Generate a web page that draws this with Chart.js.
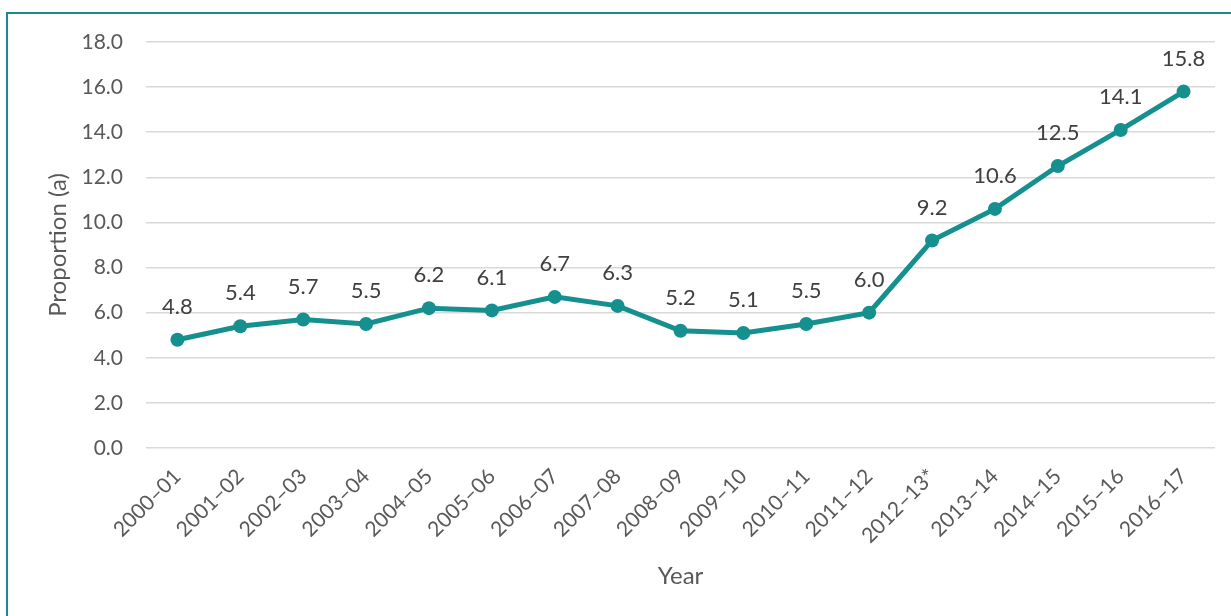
<!DOCTYPE html>
<html>
<head>
<meta charset="utf-8">
<script src="https://cdn.jsdelivr.net/npm/chart.js@4"></script>
<style>
  html, body { margin: 0; padding: 0; background: #fff; }
  #wrap { position: relative; width: 1231px; height: 616px; }
  #frame {
    position: absolute; left: 6px; top: 12px; right: 0; bottom: 0;
    border-left: 2px solid #1a8b8b; border-top: 2px solid #1a8b8b;
    pointer-events: none;
  }
</style>
</head>
<body>
<div id="wrap">
  <canvas id="chart" width="1231" height="616"></canvas>
  <div id="frame"></div>
</div>
<script>
// Chart data
const years = [
  "2000–01", "2001–02", "2002–03", "2003–04", "2004–05", "2005–06",
  "2006–07", "2007–08", "2008–09", "2009–10", "2010–11", "2011–12",
  "2012–13*", "2013–14", "2014–15", "2015–16", "2016–17"
];
const proportion = [4.8, 5.4, 5.7, 5.5, 6.2, 6.1, 6.7, 6.3, 5.2, 5.1, 5.5, 6.0, 9.2, 10.6, 12.5, 14.1, 15.8];
const yTicks = [0, 2, 4, 6, 8, 10, 12, 14, 16, 18];

const TEAL = "#168f8f";
const FONT = "Lato, 'Open Sans', sans-serif";

// Draws the value above each point
const valueLabels = {
  id: "valueLabels",
  afterDatasetsDraw(chart) {
    const ctx = chart.ctx;
    const meta = chart.getDatasetMeta(0);
    ctx.save();
    ctx.font = "22px " + FONT;
    ctx.fillStyle = "#404040";
    ctx.textAlign = "center";
    ctx.textBaseline = "middle";
    meta.data.forEach((pt, i) => {
      ctx.fillText(proportion[i].toFixed(1), pt.x, pt.y - 33);
    });
    ctx.restore();
  }
};

new Chart(document.getElementById("chart"), {
  type: "line",
  data: {
    labels: years,
    datasets: [{
      data: proportion,
      borderColor: TEAL,
      backgroundColor: TEAL,
      borderWidth: 5,
      pointRadius: 7,
      pointBackgroundColor: TEAL,
      pointBorderWidth: 0,
      tension: 0
    }]
  },
  options: {
    responsive: false,
    animation: false,
    layout: { padding: { left: 10, right: 16, top: 42, bottom: 0 } },
    plugins: {
      legend: { display: false },
      tooltip: { enabled: false }
    },
    scales: {
      x: {
        offset: true,
        grid: { display: false },
        border: { display: false },
        ticks: {
          color: "#595959",
          font: { family: FONT, size: 21 },
          maxRotation: 45,
          minRotation: 45,
          padding: 8
        },
        title: {
          display: true,
          text: "Year",
          color: "#595959",
          font: { family: FONT, size: 24 },
          padding: { top: 0, bottom: 25 }
        },
        afterFit(scale) { scale.height = 168; }
      },
      y: {
        min: 0,
        max: 18,
        afterBuildTicks(scale) { scale.ticks = yTicks.map(v => ({ value: v })); },
        grid: { color: "#d9d9d9", lineWidth: 1.5, drawTicks: false },
        border: { display: false },
        ticks: {
          color: "#595959",
          font: { family: FONT, size: 21 },
          padding: 23,
          callback: v => v.toFixed(1)
        },
        title: {
          display: true,
          text: "Proportion (a)",
          color: "#595959",
          font: { family: FONT, size: 24 },
          padding: { top: 34, bottom: 0 }
        },
        afterFit(scale) { scale.width = 136; }
      }
    }
  },
  plugins: [valueLabels]
});
</script>
</body>
</html>
